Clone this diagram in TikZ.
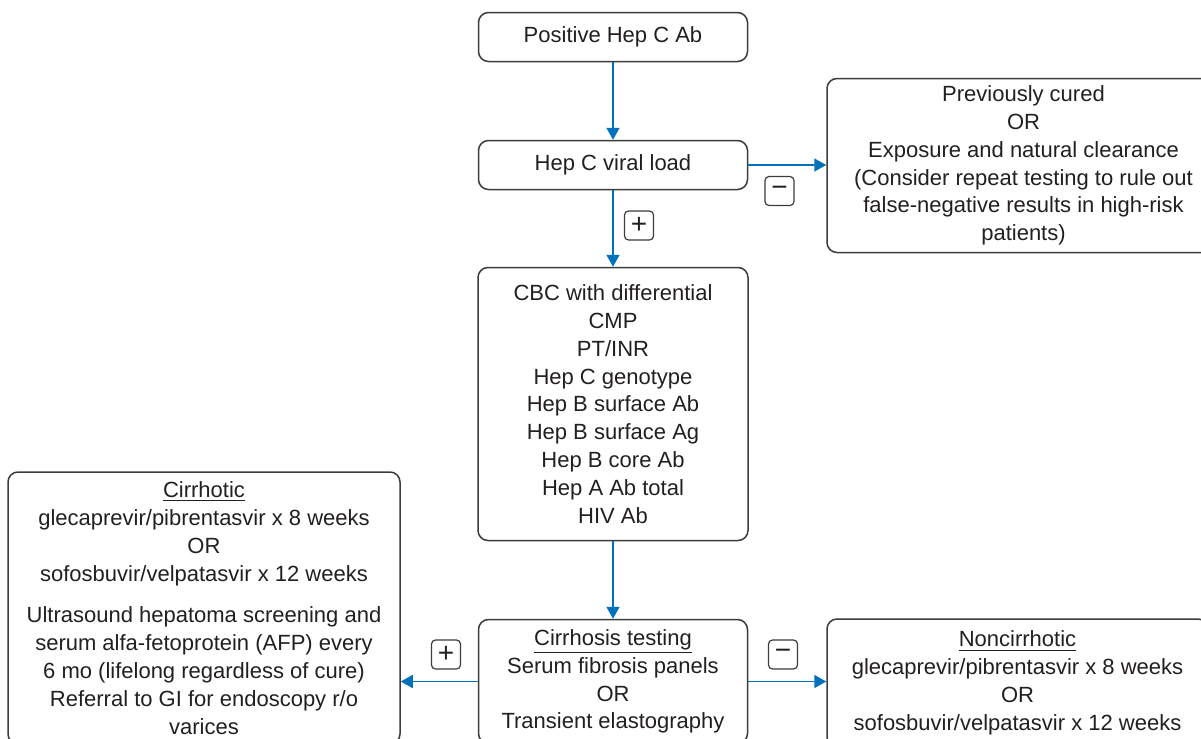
\documentclass[tikz,border=0pt]{standalone}
\usepackage{fontspec}
\setmainfont{Liberation Sans}
\usepackage{xcolor}
\usepackage{tikz}
\usetikzlibrary{arrows.meta, calc}
\definecolor{flowblue}{RGB}{0,114,188}
\definecolor{boxline}{RGB}{60,60,60}
\definecolor{inktext}{RGB}{35,31,32}
\tikzset{
  stepbox/.style={
    rectangle, draw=boxline, line width=0.75pt, rounded corners=5pt,
    inner sep=0pt, align=center, text=inktext,
    font=\fontsize{11}{13.9}\selectfont
  },
  badge/.style={
    rectangle, draw=boxline, line width=0.6pt, rounded corners=2pt,
    minimum width=14.5pt, minimum height=14.5pt, inner sep=0pt,
    text=inktext, font=\fontsize{14}{14}\selectfont
  },
  flow/.style={draw=flowblue, line width=0.8pt,
    -{Triangle[length=6pt, width=6.5pt]}},
}

\begin{document}
\begin{tikzpicture}[x=0.5pt, y=-0.5pt]
  \useasboundingbox (0,0) rectangle (1201,739);
  \clip (0,0) rectangle (1201,739);

  % Main column
  \node[stepbox, minimum width=134.5pt, minimum height=24.5pt] (hcab) at (613, 37) {Positive Hep C Ab};
  \node[stepbox, minimum width=134.5pt, minimum height=24.5pt] (vload) at (613, 165) {Hep C viral load};
  \node[stepbox, minimum width=135pt, minimum height=136.5pt] (labs) at (613, 404) {CBC with differential\\CMP\\PT/INR\\Hep C genotype\\Hep B surface Ab\\Hep B surface Ag\\Hep B core Ab\\Hep A Ab total\\HIV Ab};
  \node[stepbox, minimum width=134.5pt, minimum height=62pt] (ctest) at (613, 681.5) {\underline{Cirrhosis testing}\\Serum fibrosis panels\\OR\\Transient elastography};

  % Side boxes
  \node[stepbox, minimum width=196.5pt, minimum height=87pt] (prior) at (1023.5, 165.5) {Previously cured\\OR\\Exposure and natural clearance\\(Consider repeat testing to rule out\\false-negative results in high-risk\\patients)};
  \node[stepbox, minimum width=196pt, minimum height=136pt] (cirr) at (204, 608) {\underline{Cirrhotic}\\glecaprevir/pibrentasvir x 8 weeks\\OR\\sofosbuvir/velpatasvir x 12 weeks\\[7pt]Ultrasound hepatoma screening and\\serum alfa-fetoprotein (AFP) every\\6 mo (lifelong regardless of cure)\\Referral to GI for endoscopy r/o\\varices};
  \node[stepbox, minimum width=190.5pt, minimum height=64pt] (noncirr) at (1017.5, 683) {\underline{Noncirrhotic}\\glecaprevir/pibrentasvir x 8 weeks\\OR\\sofosbuvir/velpatasvir x 12 weeks};

  % Result badges
  \node[badge] (pos1) at (639, 225.5) {+};
  \node[badge] (neg1) at (779.5, 191) {−};
  \node[badge] (pos2) at (446, 654.5) {+};
  \node[badge] (neg2) at (783, 654.5) {−};

  % Arrows
  \draw[flow] (hcab) -- (vload);
  \draw[flow] (vload) -- (labs);
  \draw[flow] (labs) -- (ctest);
  \draw[flow] (vload.east) -- (vload.east -| prior.west);
  \draw[flow] (ctest.west) -- (ctest.west -| cirr.east);
  \draw[flow] (ctest.east) -- (ctest.east -| noncirr.west);

\end{tikzpicture}
\end{document}
